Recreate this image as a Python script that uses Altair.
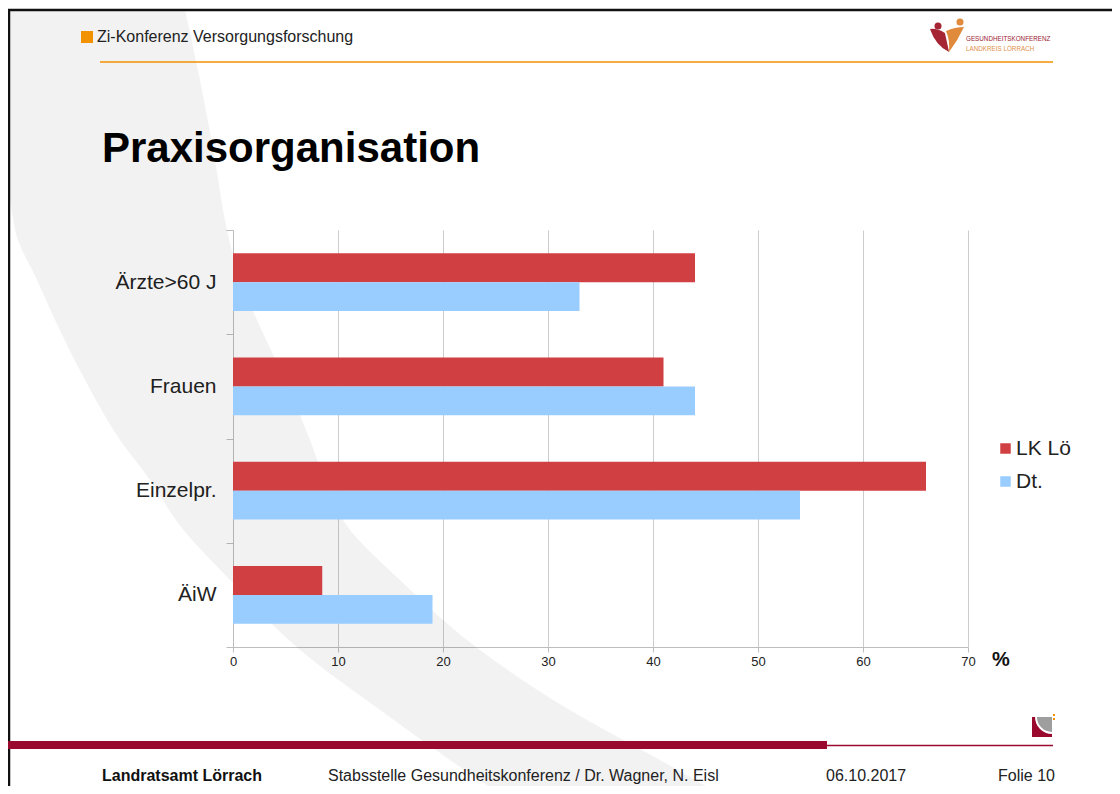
import math
import altair as alt
import pandas as pd

# ---------------- data ----------------
categories = ["Ärzte>60 J", "Frauen", "Einzelpr.", "ÄiW"]
series = ["LK Lö", "Dt."]
lk_values = [44, 41, 66, 8.5]
dt_values = [33, 44, 54, 19]
x_ticks = [0, 10, 20, 30, 40, 50, 60, 70]
bar_colors = ["#D04042", "#99CCFF"]

# background swoosh outline (page pixels, decoration only)
sw_y = [10, 80, 160, 230, 280, 320, 380, 440, 480, 523, 580, 650, 710, 760, 794]
sw_left = [8, 8, 8, 15, 37, 55, 85, 120, 150, 178, 230, 300, 380, 450, 500]
sw_right = [185, 200, 215, 227, 240, 257, 285, 310, 325, 345, 400, 480, 570, 660, 720]

FONT = "Liberation Sans"
OX, OY = 233, 230          # page position of the plot origin
W, H = 735, 417            # plot area
PAD = {"left": OX - 8, "top": OY - 8, "right": 1104 - (OX - 8) - W, "bottom": 778 - (OY - 8) - H}

rows = []
for c, a, b in zip(categories, lk_values, dt_values):
    rows.append({"category": c, "series": series[0], "value": a})
    rows.append({"category": c, "series": series[1], "value": b})
df = pd.DataFrame(rows)

one = alt.Data(values=[{"k": 1}])


def px(x):
    return alt.value(x - OX)


def py(y):
    return alt.value(y - OY)


def text(txt, x, y, size, weight="normal", color="#222222", align="left", baseline="middle"):
    return alt.Chart(one).mark_text(
        text=txt, fontSize=size, fontWeight=weight, color=color,
        align=align, baseline=baseline, font=FONT
    ).encode(x=px(x), y=py(y))


def rect(x1, y1, x2, y2, color):
    return alt.Chart(one).mark_rect(color=color).encode(x=px(x1), x2=px(x2), y=py(y1), y2=py(y2))


def hrule(x1, x2, y, color, w):
    return alt.Chart(one).mark_rule(color=color, strokeWidth=w).encode(x=px(x1), x2=px(x2), y=py(y))


def vrule(x, y1, y2, color, w):
    return alt.Chart(one).mark_rule(color=color, strokeWidth=w).encode(x=px(x), y=py(y1), y2=py(y2))


# ---------------- background swoosh ----------------
sw = pd.DataFrame({
    "sy": [v - OY for v in sw_y],
    "sl": [v - OX for v in sw_left],
    "sr": [v - OX for v in sw_right],
})
swoosh = alt.Chart(sw).mark_area(orient="horizontal", color="#000000", opacity=0.05,
                                 interpolate="monotone").encode(
    y=alt.Y("sy:Q", scale=None, axis=None),
    x=alt.X("sl:Q", scale=None, axis=None),
    x2="sr:Q",
)

# ---------------- bars ----------------
bars = alt.Chart(df).mark_bar().encode(
    x=alt.X("value:Q",
            scale=alt.Scale(domain=[0, 70], nice=False, zero=True),
            axis=alt.Axis(orient="bottom", values=x_ticks, title=None, format="d",
                          grid=True, gridColor="#CCCCCC", gridWidth=1,
                          tickColor="#BDBDBD", tickSize=5, domainColor="#BDBDBD",
                          labelFontSize=13, labelColor="#222222", labelPadding=3,
                          labelFlush=False, labelFont=FONT)),
    y=alt.Y("category:N", sort=categories,
            scale=alt.Scale(paddingInner=0, paddingOuter=0),
            axis=alt.Axis(orient="left", title=None, tickBand="extent", tickSize=7,
                          tickColor="#BDBDBD", domainColor="#BDBDBD", grid=False,
                          labelFontSize=21, labelColor="#222222", labelPadding=10,
                          labelFont=FONT)),
    yOffset=alt.YOffset("series:N", sort=series,
                        scale=alt.Scale(paddingInner=0, paddingOuter=0.8)),
    color=alt.Color("series:N", sort=series,
                    scale=alt.Scale(domain=series, range=bar_colors),
                    legend=alt.Legend(title=None, orient="none", legendX=762, legendY=208,
                                      symbolType="square", symbolSize=110,
                                      symbolStrokeWidth=0, labelFontSize=21,
                                      labelColor="#222222", labelFont=FONT,
                                      rowPadding=11, labelOffset=0)),
)

# ---------------- slide decorations ----------------
deco = [
    # frame
    hrule(8, 1112, 10, "#111111", 2.5),
    vrule(9, 10, 790, "#111111", 2.5),
    # header
    rect(81, 31, 93, 43, "#F39200"),
    text("Zi-Konferenz Versorgungsforschung", 97, 37, 16),
    hrule(100, 1053, 62, "#F39200", 1.5),
    # logo top right
    alt.Chart(one).mark_point(
        shape="M-0.89,-0.39 Q-0.5,-0.44 -0.06,-0.17 L0.17,0.89 Q-0.56,0.56 -0.89,-0.39 Z",
        filled=True, size=1296, color="#A52535", opacity=1, strokeWidth=0
    ).encode(x=px(946), y=py(36)),
    alt.Chart(one).mark_point(
        shape="M0,-0.28 Q0.5,-0.5 1,-0.5 Q0.67,0.22 0.17,0.89 Q0.22,0.22 0,-0.28 Z",
        filled=True, size=1296, color="#E08A3C", opacity=1, strokeWidth=0
    ).encode(x=px(946), y=py(36)),
    alt.Chart(one).mark_point(shape="circle", filled=True, size=50, color="#A52535",
                              opacity=1).encode(x=px(938), y=py(26)),
    alt.Chart(one).mark_point(shape="circle", filled=True, size=50, color="#E08A3C",
                              opacity=1).encode(x=px(960), y=py(22)),
    text("GESUNDHEITSKONFERENZ", 966, 39, 6.3, color="#9B1B30"),
    text("LANDKREIS LÖRRACH", 966, 48.5, 6.3, color="#E0904A"),
    # title
    text("Praxisorganisation", 102, 162, 42, weight="bold", color="#000000",
         baseline="alphabetic"),
    # axis unit
    text("%", 992, 666, 20, weight="bold", color="#111111", baseline="alphabetic"),
    # footer
    rect(8, 741, 827, 749, "#9A0A2F"),
    hrule(827, 1053, 745.5, "#9A0A2F", 1.5),
    rect(1032, 717, 1052, 737, "#9A0A2F"),
    alt.Chart(one).mark_arc(radius=17, theta=math.pi, theta2=1.5 * math.pi,
                            color="#FFFFFF").encode(x=px(1052), y=py(717)),
    alt.Chart(one).mark_arc(radius=15, theta=math.pi, theta2=1.5 * math.pi,
                            color="#9E9E9E").encode(x=px(1052), y=py(717)),
    rect(1053, 714, 1055, 716, "#F39200"),
    rect(1053, 718, 1055, 720, "#F39200"),
    text("Landratsamt Lörrach", 102, 776, 16, weight="bold", color="#111111"),
    text("Stabsstelle Gesundheitskonferenz / Dr. Wagner, N. Eisl", 328, 776, 16),
    text("06.10.2017", 826, 776, 16),
    text("Folie 10", 998, 776, 16),
]

chart = alt.layer(swoosh, bars, *deco).resolve_scale(
    x="independent", y="independent"
).properties(
    width=W, height=H, padding=PAD,
    autosize=alt.AutoSizeParams(type="none"),
    background="#FFFFFF",
).configure(font=FONT).configure_view(stroke=None)

chart.save("out.html", embed_options={"renderer": "svg", "actions": False})
